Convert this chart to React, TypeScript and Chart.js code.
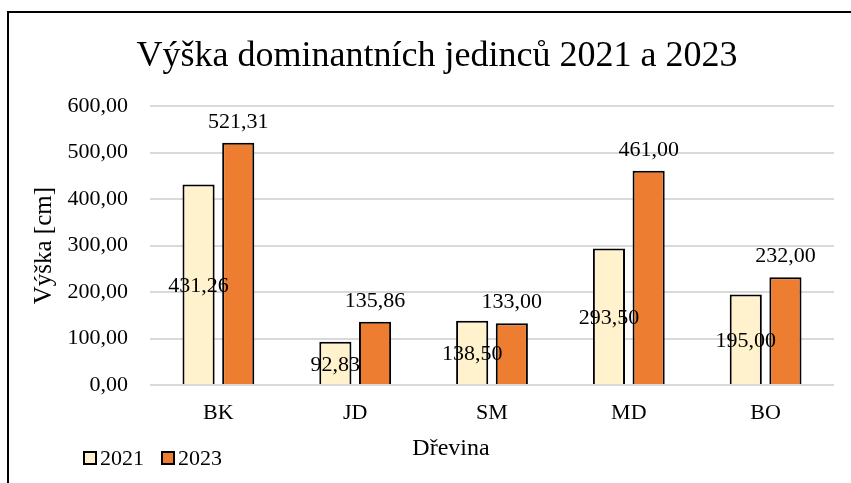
import React, { useEffect, useRef } from "react";
import { Chart, registerables } from "chart.js";

Chart.register(...registerables);

const categories = ["BK", "JD", "SM", "MD", "BO"];
const series2021 = [431.26, 92.83, 138.5, 293.5, 195.0];
const series2023 = [521.31, 135.86, 133.0, 461.0, 232.0];
const seriesNames = ["2021", "2023"];
const colors = ["#FFF2CC", "#ED7D31"];
const xAxisTitle = "Dřevina";

const FONT = "'Liberation Serif', 'Times New Roman', serif";
const fmt = (v: number) => v.toFixed(2).replace(".", ",");

const labelPlugin = {
  id: "valueLabels",
  afterDatasetsDraw(chart: any) {
    const ctx = chart.ctx;
    ctx.save();
    ctx.fillStyle = "#000";
    ctx.font = `22px ${FONT}`;
    ctx.textAlign = "center";
    ctx.textBaseline = "middle";
    chart.data.datasets.forEach((ds: any, di: number) => {
      const meta = chart.getDatasetMeta(di);
      meta.data.forEach((bar: any, i: number) => {
        const v = ds.data[i];
        if (di === 0) {
          const y = (bar.y + bar.base) / 2 + 2;
          ctx.fillText(fmt(v), bar.x, y);
        } else {
          ctx.fillText(fmt(v), bar.x, bar.y - 21);
        }
      });
    });
    ctx.restore();
  },
  afterDraw(chart: any) {
    const ctx = chart.ctx;
    ctx.save();
    // x axis title
    ctx.fillStyle = "#000";
    ctx.font = `24px ${FONT}`;
    ctx.textAlign = "center";
    ctx.textBaseline = "middle";
    ctx.fillText(xAxisTitle, 451, 449);
    // legend
    ctx.font = `22px ${FONT}`;
    ctx.textAlign = "left";
    const y = 458;
    let x = 84;
    seriesNames.forEach((name, i) => {
      ctx.fillStyle = colors[i];
      ctx.fillRect(x, y - 6, 12, 12);
      ctx.strokeStyle = "#000";
      ctx.lineWidth = 2;
      ctx.strokeRect(x, y - 6, 12, 12);
      ctx.fillStyle = "#000";
      ctx.fillText(name, x + 16, y + 1);
      x += 78;
    });
    ctx.restore();
  },
};

export default function App() {
  const ref = useRef<HTMLCanvasElement>(null);
  useEffect(() => {
    if (!ref.current) return;
    const chart = new Chart(ref.current, {
      type: "bar",
      data: {
        labels: categories,
        datasets: [
          {
            label: seriesNames[0],
            data: series2021,
            backgroundColor: colors[0],
            borderColor: "#000",
            borderWidth: 2,
            categoryPercentage: 0.58,
            barPercentage: 0.81,
          },
          {
            label: seriesNames[1],
            data: series2023,
            backgroundColor: colors[1],
            borderColor: "#000",
            borderWidth: 2,
            categoryPercentage: 0.58,
            barPercentage: 0.81,
          },
        ],
      },
      options: {
        animation: false,
        responsive: false,
        maintainAspectRatio: false,
        layout: { padding: { left: 40, right: 17, top: 0, bottom: 0 } },
        plugins: {
          legend: { display: false },
          tooltip: { enabled: false },
          title: {
            display: true,
            text: "Výška dominantních jedinců 2021 a 2023",
            color: "#000",
            font: { family: FONT, size: 36, weight: "normal" },
            padding: { top: 35, bottom: 28 },
          },
        },
        scales: {
          x: {
            grid: { display: false, drawTicks: false },
            border: { display: false },
            ticks: { color: "#000", font: { family: FONT, size: 22 }, padding: 15 },
            afterFit: (s: any) => {
              s.height = 98;
            },
          },
          y: {
            min: 0,
            max: 600,
            ticks: {
              stepSize: 100,
              color: "#000",
              font: { family: FONT, size: 22 },
              padding: 22,
              callback: (v: any) => fmt(Number(v)),
            },
            grid: { color: "#D9D9D9", lineWidth: 2, drawTicks: false },
            border: { display: false },
            title: {
              display: true,
              text: "Výška [cm]",
              color: "#000",
              font: { family: FONT, size: 25 },
              padding: { top: -11, bottom: 0 },
            },
            afterFit: (s: any) => {
              s.width = 110;
            },
          },
        },
      },
      plugins: [labelPlugin],
    });
    return () => chart.destroy();
  }, []);
  return (
    <div style={{ position: "fixed", left: 0, top: 0, width: 851, height: 483, background: "#fff" }}>
      <canvas ref={ref} width={851} height={483} style={{ position: "absolute", left: 0, top: 0 }} />
      <div
        style={{
          position: "absolute",
          left: 7,
          top: 11,
          right: 0,
          bottom: 0,
          borderLeft: "2px solid #000",
          borderTop: "2px solid #000",
          pointerEvents: "none",
        }}
      />
    </div>
  );
}
